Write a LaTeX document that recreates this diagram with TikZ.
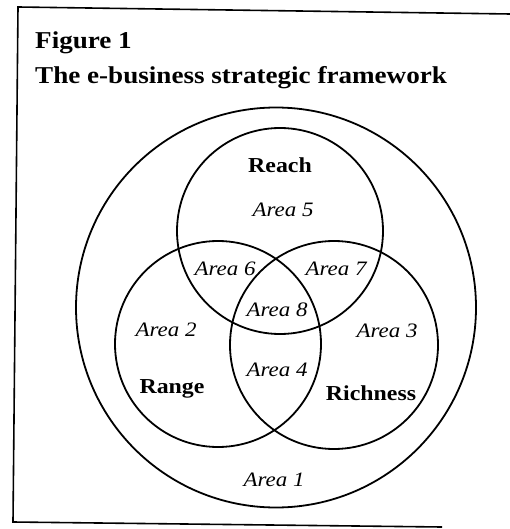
\documentclass[tikz,border=0pt]{standalone}
\usepackage{fontspec}
\setmainfont{Liberation Serif}[FakeStretch=1.12]
\begin{document}
\begin{tikzpicture}[x=1pt,y=-1pt,
  ring/.style={circle,draw,line width=1.8pt,minimum size=#1,inner sep=0pt},
  area/.style={font=\fontsize{20.5}{24}\selectfont\itshape,anchor=base,inner sep=0pt},
  setname/.style={font=\fontsize{21.3}{25}\selectfont\bfseries,anchor=base,inner sep=0pt},
  heading/.style={font=\fontsize{24.2}{28}\selectfont\bfseries,anchor=base west,inner sep=0pt}]
\useasboundingbox (0,0) rectangle (510,529);
% frame (open on the right)
\coordinate (ftr) at (510,14);
\coordinate (ftl) at (18,7);
\coordinate (fbl) at (13,522);
\coordinate (fbr) at (442,527);
\draw[line width=1.6pt] (ftr) -- (ftl) -- (fbl) -- (fbr);
% heading
\node[heading] (fig) at (35,49) {Figure 1};
\node[heading] (title) at (35,84) {The e-business strategic framework};
% circles
\node[ring=400] (outer) at (276,307.5) {};
\node[ring=206] (reach) at (280,231) {};
\node[ring=206] (range) at (218,344) {};
\node[ring=208] (rich) at (334,345) {};
% set names
\node[setname] (lreach) at (280,173) {Reach};
\node[setname] (lrange) at (172,393) {Range};
\node[setname] (lrich) at (371,400) {Richness};
% areas
\node[area] (a5) at (283,216) {Area 5};
\node[area] (a6) at (225,275) {Area 6};
\node[area] (a7) at (336,275) {Area 7};
\node[area] (a8) at (277,316) {Area 8};
\node[area] (a2) at (166,336) {Area 2};
\node[area] (a3) at (387,337) {Area 3};
\node[area] (a4) at (277,376) {Area 4};
\node[area] (a1) at (274,486) {Area 1};
\end{tikzpicture}
\end{document}
